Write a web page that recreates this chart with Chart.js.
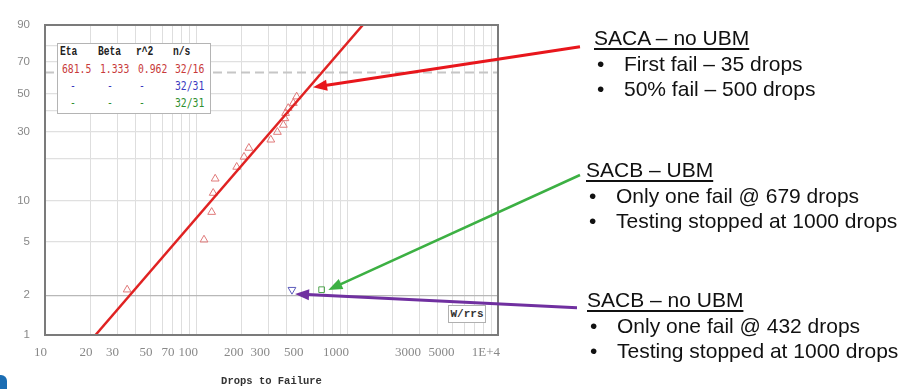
<!DOCTYPE html>
<html>
<head>
<meta charset="utf-8">
<script src="https://cdn.jsdelivr.net/npm/chart.js@4/dist/chart.umd.min.js"></script>
<style>
  html, body { margin: 0; padding: 0; background: #fff; }
  #wrap { position: relative; width: 918px; height: 389px; overflow: hidden; }
  #c { position: absolute; left: 0; top: 0; }
  .note { position: absolute; font-family: "Liberation Sans", Arial, sans-serif; font-size: 21px; line-height: 25.5px; color: #111; white-space: nowrap; }
  .note .ttl { text-decoration: underline; text-decoration-thickness: 1.5px; text-underline-offset: 3px; }
  .note .bl { position: relative; padding-left: 30px; }
  .note .bl .dot { position: absolute; left: 3px; top: 0; }
  #tbl { position: absolute; left: 57px; top: 43px; width: 152px; height: 69px; border: 1px solid #b4b4b4; background: #fff; }
  #tbl span { position: absolute; font-family: "DejaVu Sans Mono", "Liberation Mono", monospace; font-size: 13px; line-height: 15px; transform: scaleX(0.75); transform-origin: left center; white-space: pre; }
  #tbl span.h { font-family: "Liberation Mono", "Courier New", monospace; font-weight: bold; font-size: 13px; transform: scaleX(0.74); color: #222; }
  #wrrs { position: absolute; left: 448px; top: 305px; width: 36px; height: 16px; border: 1px solid #b0b0b0; background: #fff; font-family: "Liberation Mono", monospace; font-weight: bold; font-size: 11px; line-height: 16px; color: #333; text-align: center; }
  #logo { position: absolute; left: 0; top: 375px; width: 7px; height: 14px; background: #1b6db3; border-top-right-radius: 6px; }
</style>
</head>
<body>
<div id="wrap">
  <canvas id="c" width="918" height="389"></canvas>
  <div id="tbl"></div>
  <div id="wrrs">W/rrs</div>
  <div id="logo"></div>
</div>
<script>
// ---------------- data ----------------
const xTitle = 'Drops to Failure';
// SACA – no UBM : failures (drops) and median-rank unreliability (%)
const sacaDrops = [35, 113, 127, 130, 134, 186, 208, 224, 313, 346, 379, 388, 392, 408, 441, 464];
const sacaPct   = [2.2, 5.2, 8.3, 11.4, 14.4, 17.4, 20.4, 23.4, 26.5, 29.7, 32.9, 36.1, 38.8, 41.5, 44.3, 48.1];
// SACB – no UBM (one failure)
const sacbNoUbmDrops = [432];
const sacbNoUbmPct   = [2.2];
// SACB – UBM (one failure)
const sacbUbmDrops = [679];
const sacbUbmPct   = [2.2];
// Weibull fit line for SACA (Eta 681.5, Beta 1.333), end points
const fitDrops = [21.6, 1273];
const fitPct   = [1, 90];
// characteristic-life reference line (63.2 %)
const refDrops = [10, 10000];
const refPct   = [63.2, 63.2];

// axis ticks
const xLabelValues = [10, 20, 30, 50, 70, 100, 200, 300, 500, 1000, 3000, 5000, 10000];
const xLabelTexts  = ['10', '20', '30', '50', '70', '100', '200', '300', '500', '1000', '3000', '5000', '1E+4'];
const yGridValues  = [1, 2, 5, 10, 20, 30, 40, 50, 70, 80, 90];
const yLabelValues = [1, 2, 5, 10, 30, 50, 70, 90];

// legend table
const tableHeader = ['Eta', 'Beta', 'r^2', 'n/s'];
const tableRows = [
  ['681.5', '1.333', '0.962', '32/16'],
  ['-', '-', '-', '32/31'],
  ['-', '-', '-', '32/31']
];
const tableColors = ['#c83a3a', '#3a3ac0', '#2f8f2f'];

// annotation texts
const notes = [
  { title: 'SACA \u2013 no UBM', bullets: ['First fail \u2013 35 drops', '50% fail \u2013 500 drops'] },
  { title: 'SACB \u2013 UBM', bullets: ['Only one fail @ 679 drops', 'Testing stopped at 1000 drops'] },
  { title: 'SACB \u2013 no UBM', bullets: ['Only one fail @ 432 drops', 'Testing stopped at 1000 drops'] }
];

// ---------------- layout helpers ----------------
const notePos = [[594, 25], [586, 157], [587, 287]];
notes.forEach((n, i) => {
  const d = document.createElement('div');
  d.className = 'note';
  d.style.left = notePos[i][0] + 'px';
  d.style.top = notePos[i][1] + 'px';
  let h = '<div><span class="ttl">' + n.title + '</span></div>';
  n.bullets.forEach(b => { h += '<div class="bl"><span class="dot">\u2022</span>' + b + '</div>'; });
  d.innerHTML = h;
  document.getElementById('wrap').appendChild(d);
});

(function buildTable() {
  const t = document.getElementById('tbl');
  const colLeft = [2, 40, 78, 115];
  const dashOff = [10, 9, 3, 0];
  const rowTop = [0, 17, 34, 51];
  tableHeader.forEach((txt, j) => {
    const s = document.createElement('span');
    s.className = 'h'; s.textContent = txt;
    s.style.left = colLeft[j] + 'px'; s.style.top = rowTop[0] + 'px';
    t.appendChild(s);
  });
  tableRows.forEach((row, i) => {
    row.forEach((txt, j) => {
      const s = document.createElement('span');
      s.textContent = txt; s.style.color = tableColors[i];
      s.style.left = (colLeft[j] + (txt === '-' ? dashOff[j] : 2)) + 'px';
      s.style.top = rowTop[i + 1] + 'px';
      t.appendChild(s);
    });
  });
})();

// ---------------- Weibull probability scale ----------------
const wT = p => Math.log(-Math.log(1 - p / 100));
const wInv = v => 100 * (1 - Math.exp(-Math.exp(v)));
class WeibullScale extends Chart.Scale {
  static id = 'weibull';
  static defaults = {};
  parse(raw) { return raw == null ? undefined : +raw; }
  determineDataLimits() {
    this.min = this.options.min;
    this.max = this.options.max;
  }
  buildTicks() {
    const vals = this.options.tickValues || yGridValues;
    return vals.map(v => ({ value: v }));
  }
  getLabelForValue(v) { return String(v); }
  configure() {
    super.configure();
    this._lo = wT(this.min);
    this._hi = wT(this.max);
  }
  getPixelForValue(v) {
    return this.getPixelForDecimal((wT(v) - this._lo) / (this._hi - this._lo));
  }
  getValueForPixel(px) {
    return wInv(this._lo + this.getDecimalForPixel(px) * (this._hi - this._lo));
  }
}
Chart.register(WeibullScale);

const toPts = (xs, ys) => xs.map((x, i) => ({ x: x, y: ys[i] }));

// x grid: log grid 1..9 per decade
const xGrid = [];
for (let dec = 10; dec < 10000; dec *= 10) for (let m = 1; m <= 9; m++) xGrid.push(m * dec);
xGrid.push(10000);

// ---------------- plugins ----------------
const framePlugin = {
  id: 'frame',
  afterDatasetsDraw(chart) {
    const { ctx, chartArea: a } = chart;
    ctx.save();
    ctx.strokeStyle = '#7b7b7b';
    ctx.lineWidth = 2;
    ctx.strokeRect(a.left, a.top, a.right - a.left, a.bottom - a.top);
    ctx.restore();
  }
};

// arrows: tail in page pixels (next to the annotation text), tip in data units
const arrowDefs = [
  { color: '#e8161c', width: 3,   tail: [580, 46.7], tip: [596, 53.8] },
  { color: '#3cb043', width: 2.5, tail: [580, 175],  tip: [752, 2.19] },
  { color: '#7030a0', width: 3,   tail: [577, 307.7], tip: [453, 2.04] }
];
const arrowPlugin = {
  id: 'arrows',
  afterDraw(chart) {
    const { ctx, scales } = chart;
    arrowDefs.forEach(a => {
      const tx = scales.x.getPixelForValue(a.tip[0]);
      const ty = scales.y.getPixelForValue(a.tip[1]);
      const [fx, fy] = a.tail;
      const ang = Math.atan2(ty - fy, tx - fx);
      const L = 14, W = 5.5;
      const bx = tx - Math.cos(ang) * L, by = ty - Math.sin(ang) * L;
      ctx.save();
      ctx.strokeStyle = a.color; ctx.fillStyle = a.color;
      ctx.lineWidth = a.width; ctx.lineCap = 'butt';
      ctx.beginPath(); ctx.moveTo(fx, fy); ctx.lineTo(bx + Math.cos(ang) * 2, by + Math.sin(ang) * 2); ctx.stroke();
      ctx.beginPath();
      ctx.moveTo(tx, ty);
      ctx.lineTo(bx + Math.sin(ang) * W, by - Math.cos(ang) * W);
      ctx.lineTo(bx - Math.sin(ang) * W, by + Math.cos(ang) * W);
      ctx.closePath(); ctx.fill();
      ctx.restore();
    });
  }
};

// ---------------- chart ----------------
new Chart(document.getElementById('c'), {
  type: 'scatter',
  data: {
    datasets: [
      { label: '63.2%', data: toPts(refDrops, refPct), showLine: true, borderColor: '#c6c6c6', borderWidth: 2, borderDash: [9, 5], pointRadius: 0 },
      { label: 'SACA fit', data: toPts(fitDrops, fitPct), showLine: true, borderColor: '#e02222', borderWidth: 2.5, pointRadius: 0 },
      { label: 'SACA – no UBM', data: toPts(sacaDrops, sacaPct), pointStyle: 'triangle', pointRadius: 4.5, borderColor: '#e07a7a', backgroundColor: 'rgba(0,0,0,0)', borderWidth: 1 },
      { label: 'SACB – no UBM', data: toPts(sacbNoUbmDrops, sacbNoUbmPct), pointStyle: 'triangle', pointRotation: 180, pointRadius: 4.5, borderColor: '#5b5bbb', backgroundColor: 'rgba(0,0,0,0)', borderWidth: 1 },
      { label: 'SACB – UBM', data: toPts(sacbUbmDrops, sacbUbmPct), pointStyle: 'rect', pointRadius: 4, borderColor: '#4fa44f', backgroundColor: 'rgba(0,0,0,0)', borderWidth: 1 }
    ]
  },
  options: {
    responsive: false,
    animation: false,
    devicePixelRatio: 1,
    layout: { padding: { left: 0, top: 25, right: 420, bottom: 0 } },
    plugins: { legend: { display: false }, tooltip: { enabled: false } },
    scales: {
      x: {
        type: 'logarithmic', min: 10, max: 10000,
        afterBuildTicks: s => { s.ticks = xGrid.map(v => ({ value: v })); },
        afterFit: s => { s.height = 54; },
        grid: { color: '#dedede', lineWidth: 1, drawTicks: false },
        border: { display: false },
        ticks: {
          autoSkip: false, maxRotation: 0, minRotation: 0, align: 'end', labelOffset: 2, padding: 10,
          font: { family: 'Liberation Serif', size: 13 }, color: '#888',
          callback: v => { const k = xLabelValues.indexOf(v); return k >= 0 ? xLabelTexts[k] : ''; }
        },
        title: { display: true, text: xTitle, color: '#333', font: { family: 'Liberation Mono', weight: 'bold', size: 10.5 }, padding: { top: 0, bottom: 1 } }
      },
      y: {
        type: 'weibull', min: 1, max: 90, tickValues: yGridValues,
        afterFit: s => { s.width = 45; },
        grid: { color: c => (c.tick && c.tick.value === 2) ? '#b8b8b8' : '#e0e0e0', lineWidth: 1.2, drawTicks: false },
        border: { display: false },
        ticks: {
          autoSkip: false, padding: 15,
          font: { family: 'Liberation Sans', size: 11.5 }, color: '#888',
          callback: v => yLabelValues.includes(v) ? String(v) : ''
        }
      }
    }
  },
  plugins: [framePlugin, arrowPlugin]
});
</script>
</body>
</html>
